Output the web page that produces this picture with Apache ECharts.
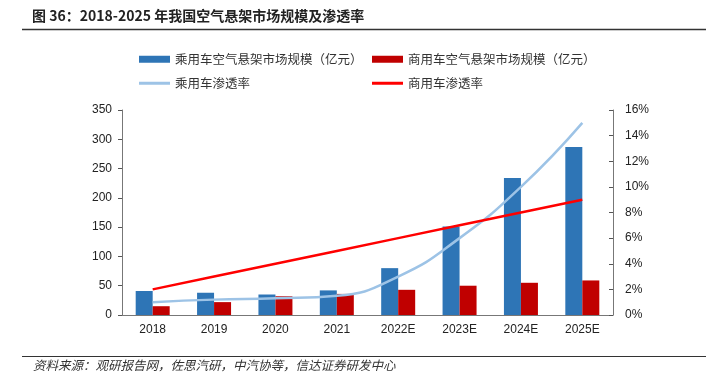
<!DOCTYPE html>
<html>
<head>
<meta charset="utf-8">
<script src="https://cdn.jsdelivr.net/npm/echarts@6/dist/echarts.min.js"></script>
<style>
  html, body { margin: 0; padding: 0; background: #fff; }
  #main { width: 706px; height: 377px; }
</style>
</head>
<body>
<div id="main"></div>
<script>
// 数据
var years = ['2018', '2019', '2020', '2021', '2022E', '2023E', '2024E', '2025E'];
var passengerSize = [41, 38, 35, 42, 80, 151, 234, 287];
var commercialSize = [15, 22, 32, 36, 43, 50, 55, 59];
var passengerRate = [1.0, 1.2, 1.3, 1.5, 3.0, 6.0, 10.0, 15.0];
var commercialRate = [2, 3, 4, 5, 6, 7, 8, 9];

var cjk = '"Noto Sans CJK SC", sans-serif';
var latin = '"Liberation Sans", Arial, sans-serif';

var myChart = echarts.init(document.getElementById('main'));

function legendItem(name, left, top, h) {
  return {
    data: [name],
    left: left,
    top: top,
    padding: 0,
    icon: 'rect',
    itemWidth: 31,
    itemHeight: h,
    itemGap: 0,
    textStyle: { fontFamily: cjk, fontSize: 12.5, color: '#333' },
    selectedMode: false
  };
}

myChart.setOption({
  animation: false,
  graphic: [
    {
      type: 'text', left: 32, top: 9,
      style: { text: '图 36：2018-2025 年我国空气悬架市场规模及渗透率', font: 'bold 14px ' + cjk, fill: '#222' }
    },
    { type: 'line', shape: { x1: 22, y1: 29.5, x2: 706, y2: 29.5 }, style: { stroke: '#333', lineWidth: 1.5 } },
    { type: 'line', shape: { x1: 22, y1: 356.5, x2: 706, y2: 356.5 }, style: { stroke: '#333', lineWidth: 1.2 } },
    {
      type: 'text', left: 33, top: 359,
      style: { text: '资料来源：观研报告网，佐思汽研，中汽协等，信达证券研发中心', font: 'italic 12.5px ' + cjk, fill: '#333' }
    }
  ],
  legend: [
    legendItem('乘用车空气悬架市场规模（亿元）', 139, 53, 7),
    legendItem('商用车空气悬架市场规模（亿元）', 372, 53, 7),
    legendItem('乘用车渗透率', 139, 77, 3),
    legendItem('商用车渗透率', 372, 77, 3)
  ],
  grid: { left: 122, right: 93, top: 110, bottom: 62 },
  xAxis: {
    type: 'category',
    data: years,
    axisLine: { lineStyle: { color: '#777' } },
    axisTick: { inside: true, length: 4, lineStyle: { color: '#555' } },
    axisLabel: { color: '#222', fontSize: 12, fontFamily: latin, margin: 9 }
  },
  yAxis: [
    {
      type: 'value', min: 0, max: 350, interval: 50,
      splitLine: { show: false },
      axisLine: { show: true, lineStyle: { color: '#777' } },
      axisTick: { show: true, length: 4, lineStyle: { color: '#555' } },
      axisLabel: { color: '#222', fontSize: 12, fontFamily: latin, margin: 10 }
    },
    {
      type: 'value', min: 0, max: 16, interval: 2,
      splitLine: { show: false },
      axisLine: { show: true, lineStyle: { color: '#777' } },
      axisTick: { show: true, inside: true, length: 4, lineStyle: { color: '#555' } },
      axisLabel: { color: '#222', fontSize: 12, fontFamily: latin, margin: 12, formatter: '{value}%' }
    }
  ],
  series: [
    {
      name: '乘用车空气悬架市场规模（亿元）',
      type: 'bar', data: passengerSize, barWidth: 17, barGap: '0%',
      itemStyle: { color: '#2E75B6' }
    },
    {
      name: '商用车空气悬架市场规模（亿元）',
      type: 'bar', data: commercialSize, barWidth: 17,
      itemStyle: { color: '#C00000' }
    },
    {
      name: '乘用车渗透率',
      type: 'line', yAxisIndex: 1, data: passengerRate, smooth: true,
      symbol: 'none', lineStyle: { color: '#9DC3E6', width: 2.5 },
      itemStyle: { color: '#9DC3E6' }
    },
    {
      name: '商用车渗透率',
      type: 'line', yAxisIndex: 1, data: commercialRate,
      symbol: 'none', lineStyle: { color: '#FF0000', width: 2.5 },
      itemStyle: { color: '#FF0000' }
    }
  ]
});
</script>
</body>
</html>
